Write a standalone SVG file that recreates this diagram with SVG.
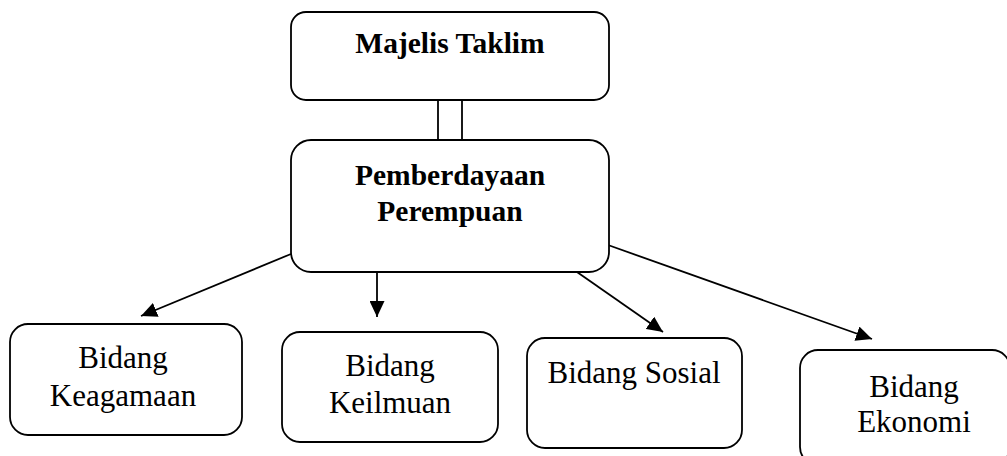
<svg xmlns="http://www.w3.org/2000/svg" width="1007" height="456" viewBox="0 0 1007 456">
<style>
.box{fill:#fff;stroke:#000;stroke-width:1.8}
text{font-family:'Liberation Serif','Times New Roman',serif;text-anchor:middle;fill:#000}
.b{font-weight:700;font-size:29.5px}
.r{font-weight:400;font-size:31px}
.c{stroke:#000;stroke-width:1.8;fill:none}
</style>
<defs>
<marker id="ah" markerUnits="userSpaceOnUse" markerWidth="17" markerHeight="15" refX="16" refY="7.5" orient="auto">
<path d="M0,0 L16,7.5 L0,15 z" fill="#000"/>
</marker>
</defs>
<rect width="1007" height="456" fill="#fff"/>
<g id="connectors">
<line class="c" x1="438" y1="100" x2="438" y2="140"/>
<line class="c" x1="462" y1="100" x2="462" y2="140"/>
<line class="c" x1="291" y1="254" x2="141" y2="316" marker-end="url(#ah)"/>
<line class="c" x1="377" y1="272" x2="377" y2="317" marker-end="url(#ah)"/>
<line class="c" x1="577" y1="272" x2="663" y2="332" marker-end="url(#ah)"/>
<line class="c" x1="608" y1="245" x2="872" y2="339" marker-end="url(#ah)"/>
</g>
<g id="majelis">
<rect class="box" x="291" y="12" width="318" height="88" rx="15"/>
<text class="b" x="450" y="53">Majelis Taklim</text>
</g>
<g id="pemberdayaan">
<rect class="box" x="291" y="140" width="318" height="132" rx="20"/>
<text class="b" x="450" y="185">Pemberdayaan</text>
<text class="b" x="450" y="221">Perempuan</text>
</g>
<g id="keagamaan">
<rect class="box" x="10" y="324" width="232" height="111" rx="18"/>
<text class="r" x="123" y="368">Bidang</text>
<text class="r" x="123" y="406">Keagamaan</text>
</g>
<g id="keilmuan">
<rect class="box" x="282" y="332" width="216" height="110" rx="18"/>
<text class="r" x="390" y="376">Bidang</text>
<text class="r" x="390" y="413">Keilmuan</text>
</g>
<g id="sosial">
<rect class="box" x="527" y="338" width="215" height="110" rx="18"/>
<text class="r" x="634" y="383">Bidang Sosial</text>
</g>
<g id="ekonomi">
<rect class="box" x="800" y="350" width="210" height="115" rx="18"/>
<text class="r" x="914" y="397">Bidang</text>
<text class="r" x="914" y="432">Ekonomi</text>
</g>
</svg>
